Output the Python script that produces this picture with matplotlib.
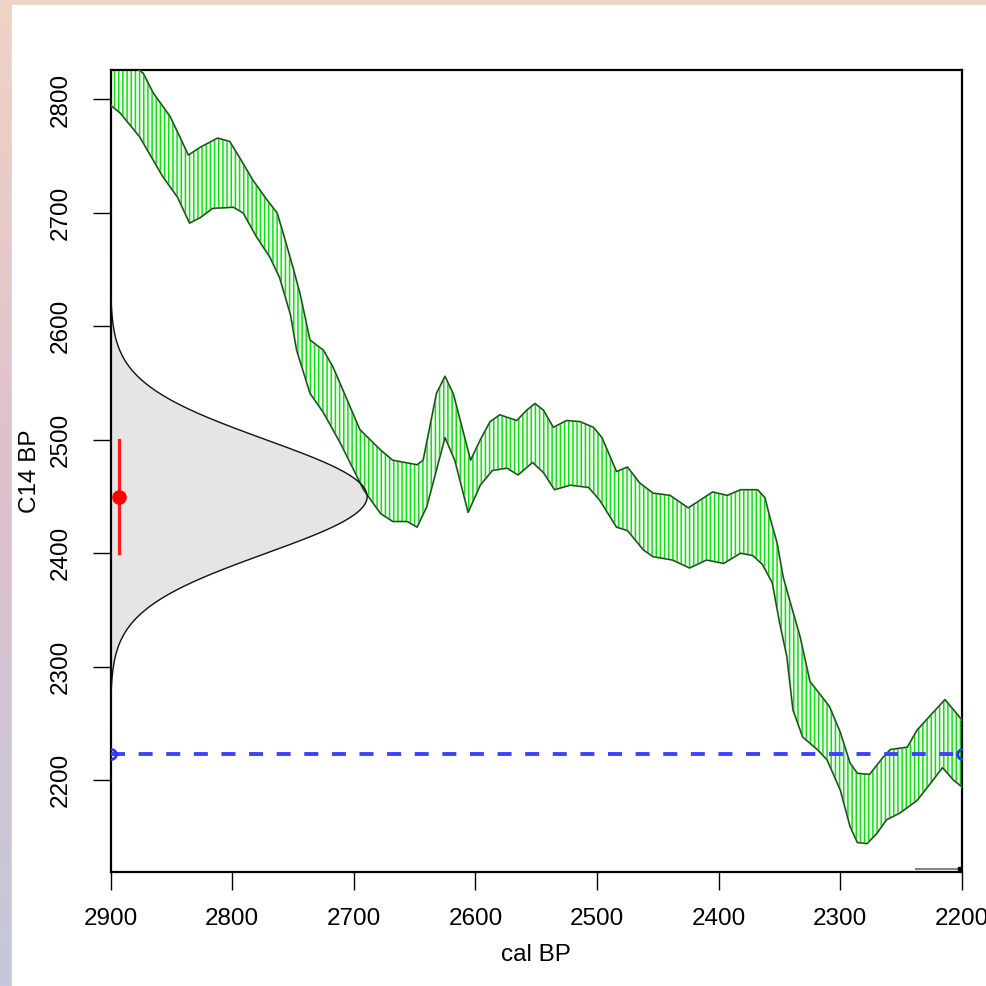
import numpy as np
import matplotlib
matplotlib.use('Agg')
import matplotlib.pyplot as plt

plt.rcParams['font.family'] = ['Liberation Sans', 'DejaVu Sans']
plt.rcParams['hatch.linewidth'] = 1.1

#%% data

# calibration curve band (cal BP, C14 BP)
upper_cal = [2900, 2873, 2865, 2851, 2843, 2836, 2826, 2812, 2802, 2794, 2783, 2771, 2763,
             2758, 2750, 2744, 2736, 2725, 2717, 2695, 2678, 2668, 2648, 2643, 2632, 2625,
             2618, 2604, 2596, 2588, 2580, 2566, 2558, 2551, 2544, 2536, 2525, 2514, 2503,
             2496, 2484, 2475, 2465, 2454, 2440, 2425, 2415, 2405, 2393, 2382, 2368, 2362,
             2358, 2352, 2347, 2341, 2333, 2325, 2309, 2300, 2292, 2286, 2276, 2265, 2259,
             2245, 2237, 2226, 2214, 2207, 2200]
upper_c14 = [2845, 2823, 2806, 2785, 2767, 2751, 2758, 2766, 2763, 2749, 2729, 2711, 2700,
             2682, 2652, 2628, 2588, 2579, 2564, 2509, 2491, 2482, 2478, 2482, 2541, 2556,
             2540, 2482, 2500, 2516, 2522, 2517, 2526, 2532, 2526, 2511, 2517, 2516, 2511,
             2502, 2472, 2476, 2462, 2453, 2451, 2440, 2447, 2454, 2451, 2456, 2456, 2449,
             2432, 2409, 2379, 2356, 2326, 2287, 2265, 2242, 2215, 2206, 2205, 2220, 2227,
             2229, 2244, 2257, 2271, 2262, 2253]

lower_cal = [2900, 2892, 2876, 2857, 2845, 2835, 2826, 2816, 2799, 2791, 2780, 2769, 2761,
             2752, 2747, 2736, 2725, 2711, 2692, 2678, 2668, 2656, 2648, 2640, 2625, 2617,
             2606, 2596, 2586, 2574, 2565, 2553, 2544, 2535, 2522, 2507, 2498, 2484, 2475,
             2462, 2454, 2438, 2424, 2410, 2396, 2382, 2372, 2364, 2356, 2350, 2344, 2339,
             2331, 2319, 2311, 2300, 2292, 2286, 2278, 2270, 2262, 2251, 2237, 2226, 2216,
             2207, 2200]
lower_c14 = [2795, 2788, 2767, 2732, 2714, 2691, 2696, 2704, 2705, 2700, 2679, 2661, 2643,
             2610, 2579, 2541, 2524, 2497, 2456, 2435, 2428, 2428, 2423, 2441, 2502, 2482,
             2436, 2460, 2473, 2475, 2469, 2480, 2471, 2456, 2460, 2458, 2447, 2423, 2420,
             2403, 2397, 2394, 2387, 2394, 2391, 2400, 2398, 2390, 2374, 2339, 2309, 2262,
             2238, 2227, 2218, 2191, 2159, 2145, 2144, 2153, 2165, 2171, 2182, 2197, 2211,
             2200, 2194]

# the measured date
date_cal = 2893
date_c14 = 2450
date_err = 50

# dashed level and the tail at the bottom right
level_c14 = 2223
tail_cal = [2238, 2202]
tail_c14 = [2121.5, 2121.5]

xticks = [2900, 2800, 2700, 2600, 2500, 2400, 2300, 2200]
yticks = [2200, 2300, 2400, 2500, 2600, 2700, 2800]

#%% figure with the framed background

fig = plt.figure(figsize=(9.86, 9.86), dpi=100)
bg = fig.add_axes([0, 0, 1, 1])
bg.set_axis_off()
top = np.array([237, 212, 196]) / 255
mid = np.array([220, 192, 205]) / 255
bot = np.array([196, 200, 218]) / 255
t = np.linspace(0, 1, 256)[:, None]
grad = np.where(t < 0.5, top + (mid - top) * (t / 0.5), mid + (bot - mid) * ((t - 0.5) / 0.5))
bg.imshow(grad[:, None, :].repeat(2, axis=1), aspect='auto', extent=[0, 1, 0, 1])
bg.add_patch(plt.Rectangle((12 / 986, 0), 1, 1 - 5 / 986, color='white', zorder=2))
bg.set_xlim(0, 1)
bg.set_ylim(0, 1)

ax = fig.add_axes([110.5 / 986, 114 / 986, 851.5 / 986, 802 / 986])
ax.set_xlim(2900, 2200)
ax.set_ylim(2119, 2826)

# date distribution on the C14 axis
yy = np.linspace(2250, 2660, 400)
dens = np.exp(-0.5 * ((yy - date_c14) / date_err) ** 2)
xx = 2900 - 211 * dens
ax.fill_betweenx(yy, 2900, xx, color='#e5e5e5', lw=0, zorder=1)
ax.plot(xx, yy, color='#111111', lw=1.0, zorder=4)

# calibration band
poly_x = upper_cal + lower_cal[::-1]
poly_y = upper_c14 + lower_c14[::-1]
ax.fill(poly_x, poly_y, facecolor='#f4fdf2', edgecolor='#10e010', hatch='||||',
        linewidth=0, zorder=2)
for cx, cy in [(upper_cal, upper_c14), (lower_cal, lower_c14)]:
    ax.plot(cx, cy, color='#55dd55', lw=1.4, solid_joinstyle='round', zorder=3)
    ax.plot(cx, cy, color='#333333', lw=0.9, solid_joinstyle='round', zorder=3)

# the date with its error
ax.plot([date_cal, date_cal], [date_c14 - date_err, date_c14 + date_err],
        color='#ff1a1a', lw=2.3, zorder=5)
ax.plot(date_cal, date_c14, 'o', color='#ff0000', ms=9.5, zorder=6)

# dashed level
ax.plot([2900, 2200], [level_c14, level_c14], color='#4040ff', lw=2.8,
        dashes=(3.6, 3.5), zorder=5)
ax.plot([2900, 2200], [level_c14, level_c14], 'o', mfc='none', mec='#3030ff',
        ms=7, mew=2, zorder=6)

ax.plot(tail_cal, tail_c14, color='#888888', lw=1.5, zorder=5)
ax.plot(tail_cal[-1], tail_c14[-1], 's', color='black', ms=3, zorder=6)

for s in ax.spines.values():
    s.set_linewidth(1.6)
ax.set_xticks(xticks)
ax.set_yticks(yticks)
ax.tick_params(axis='both', direction='out', length=13, width=1.0, labelsize=17.5)
ax.tick_params(axis='x', pad=13)
ax.tick_params(axis='y', pad=15)
for lab in ax.get_yticklabels():
    lab.set_rotation(90)
    lab.set_va('center')

fig.text(536 / 986, 1 - 955 / 986, 'cal BP', ha='center', va='center', fontsize=17.5)
fig.text(30 / 986, 1 - 471 / 986, 'C14 BP', ha='center', va='center', fontsize=17.5,
         rotation=90)

fig.savefig('out.png', dpi=100)
